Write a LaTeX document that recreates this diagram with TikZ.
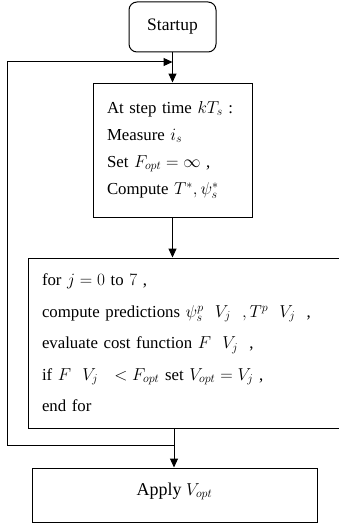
\documentclass[tikz,border=0pt]{standalone}
\usepackage{amsmath,amssymb}
\usepackage{fontspec}
\setmainfont{Liberation Serif}
\usetikzlibrary{arrows.meta}
\tikzset{
  flow box/.style={
    draw,
    line width=1pt,
    align=left,
    inner xsep=14pt,
  },
  flow arrow/.style={
    line width=1pt,
    -{Triangle[length=9pt,width=8pt]},
  },
}

\begin{document}
\begin{tikzpicture}[x=1pt, y=-1pt]
        \useasboundingbox (0,0) rectangle (339,527);
        \node[flow box, rounded corners=8pt, align=center, minimum width=87pt, minimum height=50pt,
              font=\fontsize{17.5}{20}\selectfont] (startup) at (172.5,27) {Startup};
        \node[flow box, text width=131pt, minimum height=134pt,
              font=\fontsize{16.8}{27}\selectfont] (measure) at (172.5,150)
              {At step time $kT_s$ :\\ Measure $i_s$\\ Set $F_{opt}=\infty$ ,\\ Compute $T^*,\psi_s^*$};
        \node[flow box, text width=283pt, minimum height=170pt,
              font=\fontsize{16.8}{31.5}\selectfont] (predict) at (183.5,343)
              {for $j=0\ \text{to}\ 7$ ,\\
               compute predictions $\psi_s^p\ \ V_j\ \ ,T^p\ \ V_j\ $ ,\\
               evaluate cost function $F\ \ V_j\ $ ,\\
               if $F\ \ V_j\ \ <F_{opt}$ set $V_{opt}=V_j$ ,\\
               end for};
        \node[flow box, align=center, minimum width=285pt, minimum height=54pt, text depth=12pt,
              font=\fontsize{18}{20}\selectfont] (apply) at (174.5,495) {Apply $V_{opt}$};

        \coordinate (join) at (174,445);
        \coordinate (loop) at (7,62);

        \draw[flow arrow]     (startup) to (measure);
        \draw[flow arrow]     (measure.south) to (measure.south |- predict.north);
        \draw[line width=1pt] (predict.south -| join) to (join);
        \draw[flow arrow]     (join) to (join |- apply.north);
        \draw[flow arrow]     (join) -| (loop) to (loop -| startup.south);
      \end{tikzpicture}
\end{document}
